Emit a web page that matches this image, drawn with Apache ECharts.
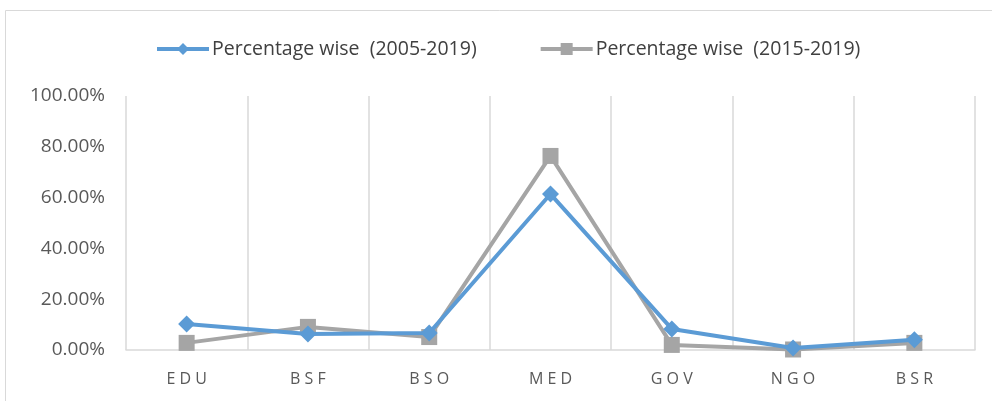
<!DOCTYPE html>
<html><head><meta charset="utf-8">
<script src="https://cdn.jsdelivr.net/npm/echarts@6/dist/echarts.min.js"></script>
<style>html,body{margin:0;padding:0;background:#fff}#c{width:992px;height:401px}</style>
</head><body><div id="c"></div>
<script>
const categories = ['EDU','BSF','BSO','MED','GOV','NGO','BSR'];
const series2005 = [10.2, 6.3, 6.7, 61.4, 8.3, 0.8, 4.0];
const series2015 = [2.8, 9.1, 5.1, 76.4, 2.0, 0.2, 2.8];
const yTicks = [0, 20, 40, 60, 80, 100];
const seriesNames = ['Percentage wise  (2005-2019)', 'Percentage wise  (2015-2019)'];

const font = '"Open Sans", sans-serif';
const chart = echarts.init(document.getElementById('c'));
chart.setOption({
  animation: false,
  graphic: [{type:'rect', shape:{x:5.5,y:10.5,width:1000,height:420}, style:{fill:'none', stroke:'#d9d9d9', lineWidth:1}, silent:true}],
  legend: {
    top: 34, left: 150, itemWidth: 52, itemHeight: 15, itemGap: 62,
    lineStyle: {width: 4},
    textStyle: {fontFamily: font, fontSize: 19.5, color: '#404040', padding: [0,0,0,-2]},
    data: seriesNames
  },
  grid: {left: 126, right: 17, top: 96, bottom: 51},
  xAxis: {
    type: 'category', data: categories, boundaryGap: true,
    axisLine: {lineStyle: {color: '#d9d9d9', width: 1.5}},
    axisTick: {show: false},
    splitLine: {show: true, lineStyle: {color: '#d9d9d9', width: 1.5}},
    axisLabel: {fontFamily: font, fontSize: 16, color: '#595959', margin: 21,
      formatter: v => v.split('').join(' ')}
  },
  yAxis: {
    type: 'value', min: 0, max: 100, interval: 20,
    splitLine: {show: false}, axisLine: {show: false}, axisTick: {show: false},
    axisLabel: {fontFamily: font, fontSize: 19, color: '#595959', margin: 21,
      formatter: v => yTicks.includes(v) ? v.toFixed(2) + '%' : ''}
  },
  series: [
    {name: seriesNames[0], type: 'line', data: series2005, symbol: 'diamond', symbolSize: 17,
     lineStyle: {color: '#5B9BD5', width: 4}, itemStyle: {color: '#5B9BD5'}, z: 3},
    {name: seriesNames[1], type: 'line', data: series2015, symbol: 'rect', symbolSize: 16,
     lineStyle: {color: '#A5A5A5', width: 4}, itemStyle: {color: '#A5A5A5'}, z: 2}
  ]
});
</script></body></html>
